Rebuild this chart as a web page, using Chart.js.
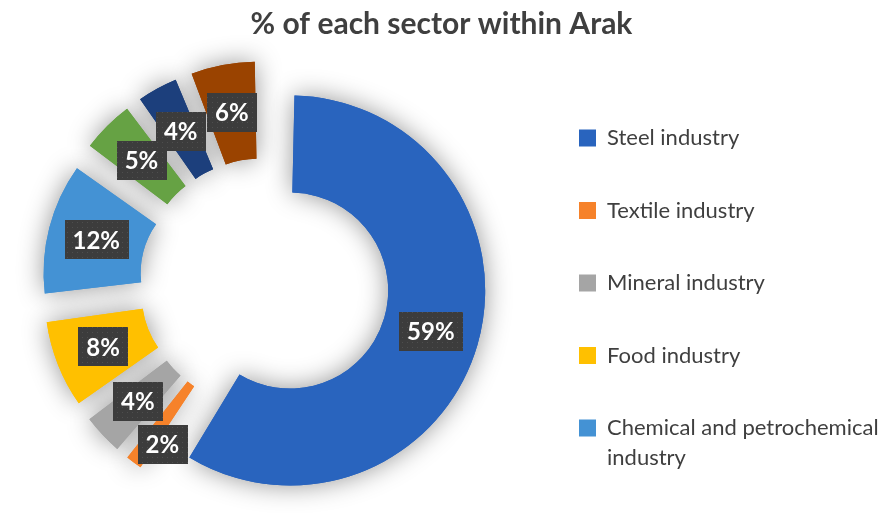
<!DOCTYPE html>
<html lang="en">
<head>
  <meta charset="UTF-8" />
  <title>% of each sector within Arak</title>
  <script src="https://cdn.jsdelivr.net/npm/chart.js"></script>
  <style>
    body { margin: 0; background: #fff; }
    .chart-box { width: 883px; height: 513px; }
  </style>
</head>
<body>

  <div class="chart-box">
    <canvas id="sectorChart"></canvas>
  </div>

  <script>
    // data
    const sectors = [
      'Steel industry',
      'Textile industry',
      'Mineral industry',
      'Food industry',
      'Chemical and petrochemical industry',
      'Machinery industry',
      'Electrical industry',
      'Other industries'
    ];
    const shares = [59, 2, 4, 8, 12, 5, 4, 6];
    const sliceColors = ['#2964be', '#f6822a', '#a5a5a5', '#ffc000', '#4492d4', '#66a244', '#1c3f7c', '#9a4300'];
    const legendCount = 5; // the original legend is cut after five entries

    // explode offsets per slice (chart.js also grows radius of small/large arcs, so these differ)
    const explode = [108, 115, 123, 142, 164, 128, 123, 132];

    const textColor = '#3f3f3f';

    // wrap long legend texts in two lines
    function wrapLabel(text, max) {
      if (text.length <= max) return text;
      const cut = text.lastIndexOf(' ', max);
      return [text.slice(0, cut), text.slice(cut + 1)];
    }

    // dotted dark fill used behind the value labels
    function labelPattern(ctx) {
      const c = document.createElement('canvas');
      c.width = 5; c.height = 5;
      const p = c.getContext('2d');
      p.fillStyle = '#3c3c3c';
      p.fillRect(0, 0, 5, 5);
      p.fillStyle = '#4e4e4e';
      p.fillRect(2, 2, 1, 1);
      return ctx.createPattern(c, 'repeat');
    }

    // soft grey halo under the ring, drawn first so it never darkens a neighbour
    const haloPlugin = {
      id: 'halo',
      beforeDatasetsDraw(chart) {
        const ctx = chart.ctx;
        const meta = chart.getDatasetMeta(0);
        ctx.save();
        ctx.shadowColor = 'rgba(0,0,0,0.42)';
        ctx.shadowBlur = 26;
        meta.data.forEach(arc => arc.draw(ctx));
        ctx.restore();
      }
    };

    // boxed percentage labels in the middle of each slice
    const valueLabels = {
      id: 'valueLabels',
      afterDatasetsDraw(chart) {
        const ctx = chart.ctx;
        const meta = chart.getDatasetMeta(0);
        const values = chart.data.datasets[0].data;
        const h = 39;
        ctx.save();
        ctx.font = 'bold 24px Lato';
        ctx.textAlign = 'center';
        ctx.textBaseline = 'middle';

        const boxes = [];
        meta.data.forEach((arc, i) => {
          const o = (arc.options.offset || 0) / 4;
          const fix = 1 - Math.sin(Math.min(Math.PI, arc.circumference));
          const mid = (arc.startAngle + arc.endAngle) / 2;
          const r = (arc.innerRadius + arc.outerRadius) / 2 + o + o * fix;
          const text = values[i] + '%';
          const w = ctx.measureText(text).width + 16;
          boxes.push({ i, text, w, x: arc.x + Math.cos(mid) * r, y: arc.y + Math.sin(mid) * r });
        });

        // bigger slices keep their spot, small ones move down if they really collide
        const placed = [];
        boxes.slice().sort((a, b) => values[b.i] - values[a.i]).forEach(b => {
          let moved = true;
          while (moved) {
            moved = false;
            placed.forEach(p => {
              const ox = Math.min(b.x + b.w / 2, p.x + p.w / 2) - Math.max(b.x - b.w / 2, p.x - p.w / 2);
              const oy = Math.min(b.y + h / 2, p.y + h / 2) - Math.max(b.y - h / 2, p.y - h / 2);
              if (ox > 10 && oy > 10) {
                b.y = p.y + h + 4;
                moved = true;
              }
            });
          }
          placed.push(b);
        });

        const pattern = labelPattern(ctx);
        boxes.forEach(b => {
          ctx.fillStyle = pattern;
          ctx.fillRect(Math.round(b.x - b.w / 2), Math.round(b.y - h / 2), Math.round(b.w), h);
          ctx.fillStyle = '#ffffff';
          ctx.fillText(b.text, b.x, b.y + 1);
        });
        ctx.restore();
      }
    };

    new Chart(document.getElementById('sectorChart'), {
      type: 'doughnut',
      data: {
        labels: sectors,
        datasets: [{
          data: shares,
          backgroundColor: sliceColors,
          borderWidth: 0,
          offset: explode,
          hoverOffset: 0
        }]
      },
      options: {
        responsive: true,
        maintainAspectRatio: false,
        animation: false,
        radius: 168,
        cutout: '42.26%',
        layout: { padding: { left: 0, right: 0, top: 0, bottom: -14.5 } },
        plugins: {
          title: {
            display: true,
            text: '% of each sector within Arak',
            color: textColor,
            font: { family: 'Lato', size: 30, weight: 'bold', lineHeight: 1 },
            padding: { top: 9, bottom: 14 }
          },
          legend: {
            position: 'right',
            align: 'end',
            maxWidth: 354.5,
            labels: {
              color: textColor,
              font: { family: 'Lato', size: 22, lineHeight: 1.364 },
              boxWidth: 17,
              boxHeight: 17,
              padding: 50.5,
              generateLabels(chart) {
                const items = Chart.overrides.doughnut.plugins.legend.labels.generateLabels(chart);
                return items.map(it => ({ ...it, text: wrapLabel(it.text, 27) }));
              },
              filter: item => item.index < legendCount
            }
          },
          tooltip: { enabled: false }
        }
      },
      plugins: [haloPlugin, valueLabels]
    });
  </script>

</body>
</html>
